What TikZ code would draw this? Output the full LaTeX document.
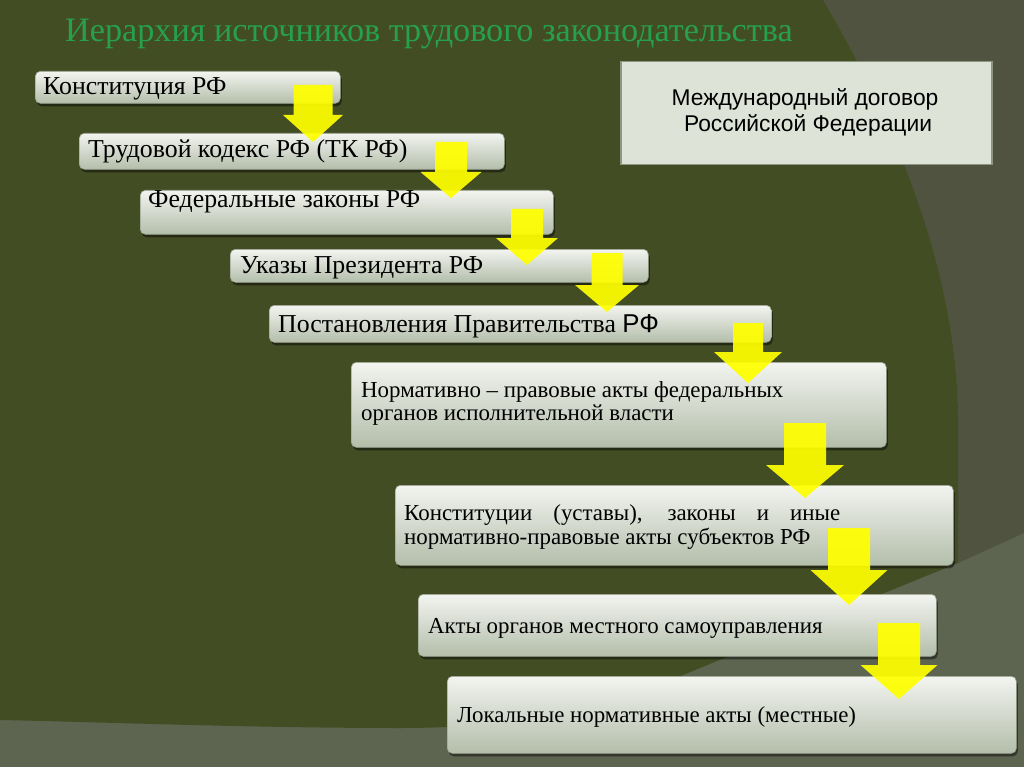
\documentclass[tikz,border=0pt]{standalone}
\usepackage{fontspec}
\setmainfont{Liberation Serif}
\newfontfamily\sansf{Liberation Sans}
\usetikzlibrary{shadows}
\definecolor{darkol}{HTML}{434D23}
\definecolor{midgray}{HTML}{4F5340}
\definecolor{lightbg}{HTML}{5D6450}
\definecolor{titlegreen}{HTML}{27A04C}
\definecolor{boxtop}{HTML}{F3F4F0}
\definecolor{boxmid}{HTML}{D3D9CD}
\definecolor{boxbot}{HTML}{B3BEAA}
\definecolor{boxedge}{HTML}{9AA391}
\definecolor{intlfill}{HTML}{DDE3D6}
\definecolor{intledge}{HTML}{8D9583}
\definecolor{arrowyellow}{HTML}{FFFF00}
\newcommand\yarrow[6]{%
  \fill[yarrowstyle] (#1-#2,#3) -- (#1+#2,#3) -- (#1+#2,#4) -- (#1+#5,#4) -- (#1,#6)
    -- (#1-#5,#4) -- (#1-#2,#4) -- cycle;}
\tikzset{
  stepbox/.style={rounded corners=5pt, top color=boxtop, bottom color=boxbot, middle color=boxmid,
    draw=boxedge, line width=0.6pt, inner sep=0pt, anchor=north west,
    drop shadow={shadow xshift=1.5pt, shadow yshift=-3pt, opacity=0.45, fill=black}},
  intlbox/.style={fill=intlfill, draw=intledge, line width=1.5pt, inner sep=0pt, anchor=north west},
  biglbl/.style={anchor=base west, inner sep=0pt, font=\fontsize{25.8}{29}\selectfont},
  smllbl/.style={anchor=base west, inner sep=0pt, font=\fontsize{22.9}{25}\selectfont},
  intllbl/.style={anchor=base, inner sep=0pt, font=\sansf\fontsize{22.8}{25}\selectfont},
  yarrowstyle/.style={fill=arrowyellow, fill opacity=0.93},
}
\begin{document}
\begin{tikzpicture}[x=1pt,y=-1pt]
\useasboundingbox (0,0) rectangle (1024,767);
% background
\fill[lightbg] (0,0) rectangle (1024,767);
\fill[midgray] (823,0) -- (1024,0) -- (1024,533) -- (958,563) -- (958,420)
  .. controls (958,280) and (900,130) .. (823,0) -- cycle;
\fill[darkol] (0,0) -- (823,0) .. controls (900,130) and (958,280) .. (958,420) -- (958,563)
  -- (700,668) .. controls (600,710) and (520,728) .. (400,728)
  .. controls (250,728) and (100,722) .. (0,720) -- cycle;
% title
\node[anchor=base west, inner sep=0pt, text=titlegreen, font=\fontsize{34.2}{38}\selectfont] (title) at (65,42)
  {Иерархия источников трудового законодательства};
% international treaty box
\node[intlbox, minimum width=371pt, minimum height=103pt] (intl) at (620,61) {};
\node[intllbl] (intl1) at (805,106) {Международный договор};
\node[intllbl] (intl2) at (808,132) {Российской Федерации};
% boxes
\node[stepbox, minimum width=305pt, minimum height=32pt] (b1) at (35,71) {};
\node[stepbox, minimum width=425pt, minimum height=36pt] (b2) at (79,133) {};
\node[stepbox, minimum width=413pt, minimum height=44pt] (b3) at (140,190) {};
\node[stepbox, minimum width=418pt, minimum height=33pt] (b4) at (230,249) {};
\node[stepbox, minimum width=502pt, minimum height=37pt] (b5) at (269,305) {};
\node[stepbox, minimum width=535pt, minimum height=85pt] (b6) at (351,362) {};
\node[stepbox, minimum width=558pt, minimum height=80pt] (b7) at (395,485) {};
\node[stepbox, minimum width=518pt, minimum height=62pt] (b8) at (418,594) {};
\node[stepbox, minimum width=569pt, minimum height=77pt] (b9) at (447,676) {};
% texts
\node[biglbl] (t1) at (43,95) {Конституция РФ};
\node[biglbl] (t2) at (88,158) {Трудовой кодекс РФ (ТК РФ)};
\node[biglbl] (t3) at (148,208) {Федеральные законы РФ};
\node[biglbl] (t4) at (240,273) {Указы Президента РФ};
\node[biglbl] (t5) at (278,332) {Постановления Правительства {\sansf РФ}};
\node[smllbl] (t6a) at (361,397) {Нормативно – правовые акты федеральных};
\node[smllbl] (t6b) at (361,420) {органов исполнительной власти};
\node[smllbl] (t7a) at (404,520) {\makebox[436pt][s]{Конституции (уставы), законы и иные}};
\node[smllbl] (t7b) at (404,544) {нормативно-правовые акты субъектов РФ};
\node[smllbl] (t8) at (428,633) {Акты органов местного самоуправления};
\node[smllbl] (t9) at (457,722) {Локальные нормативные акты (местные)};
% arrows
\yarrow{313}{19.5}{85}{115}{30}{142}
\yarrow{451}{16}{142}{172}{30.5}{198}
\yarrow{527}{16}{209}{238}{31}{265}
\yarrow{607}{15.5}{253}{285}{32}{312}
\yarrow{748}{15}{323}{352}{34}{383}
\yarrow{805}{21}{423}{465}{39}{498}
\yarrow{849}{21}{528}{570}{38.5}{605}
\yarrow{899}{21}{623}{665}{38.5}{699}
\end{tikzpicture}
\end{document}
